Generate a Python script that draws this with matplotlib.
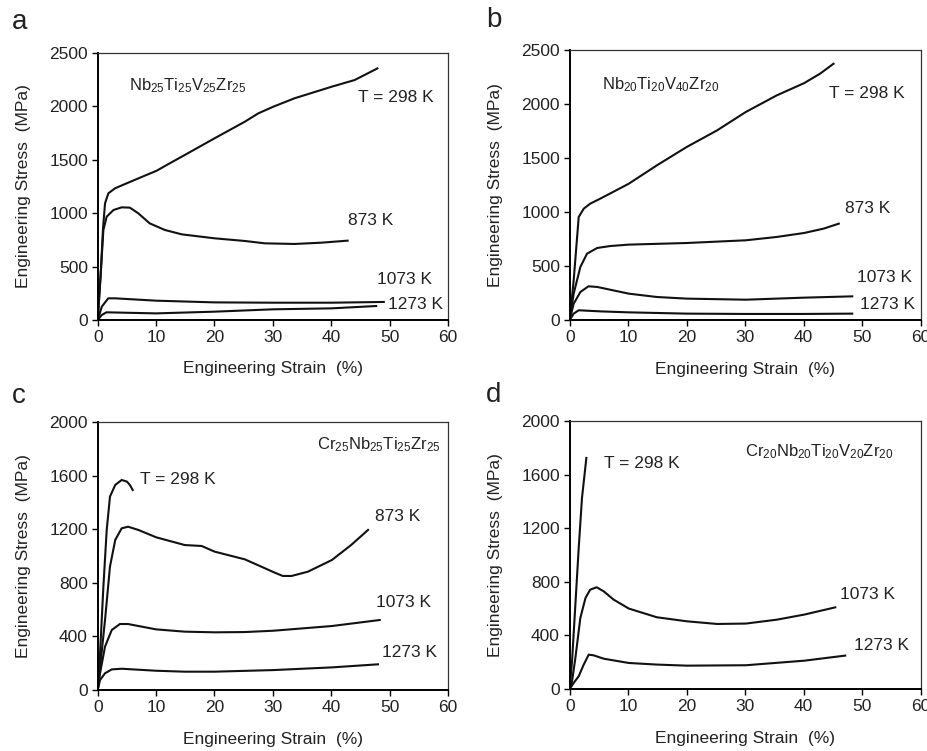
import matplotlib
matplotlib.use('Agg')
from matplotlib import pyplot as plt

plt.rcParams['font.family'] = ['Liberation Sans', 'DejaVu Sans']
plt.rcParams['mathtext.fontset'] = 'custom'
plt.rcParams['mathtext.rm'] = 'Liberation Sans'

# ---- panel a : Nb25Ti25V25Zr25 ----
a_298_x = [0, 0.5, 0.9, 1.25, 1.82, 2.96, 4.96, 6.95, 10.1, 11.8, 14.9, 20, 25.2, 27.5, 30.1, 33.7, 40.1, 44, 46.8, 47.9]
a_298_y = [0, 420, 850, 1092, 1186, 1233, 1280, 1326, 1398, 1451, 1545, 1701, 1857, 1935, 1998, 2076, 2185, 2247, 2325, 2356]
a_873_x = [0, 0.5, 0.97, 1.54, 2.7, 4.1, 5.5, 6.95, 8.9, 11.5, 14.4, 20, 25.2, 28.6, 33.7, 38.3, 42.8]
a_873_y = [0, 420, 843, 968, 1030, 1055, 1052, 999, 905, 843, 802, 765, 740, 718, 712, 724, 743]
a_1073_x = [0, 0.7, 1.8, 2.96, 10, 20, 30, 40, 49]
a_1073_y = [0, 125, 203, 203, 181, 165, 162, 162, 169]
a_1273_x = [0, 0.7, 1.5, 10, 20, 30, 40, 47.7]
a_1273_y = [0, 47, 72, 62, 78, 100, 109, 131]

# ---- panel b : Nb20Ti20V40Zr20 ----
b_298_x = [0, 0.68, 1.54, 2.4, 3.5, 5.2, 10.1, 14.9, 20, 25.2, 30.1, 35.4, 40.1, 42.8, 45.1]
b_298_y = [0, 367, 954, 1031, 1077, 1123, 1262, 1432, 1602, 1756, 1926, 2080, 2194, 2281, 2373]
b_873_x = [0, 0.68, 1.82, 2.96, 4.7, 6.95, 10.1, 20, 30.1, 35.4, 40.1, 43.4, 46]
b_873_y = [0, 244, 491, 614, 667, 685, 698, 713, 738, 769, 806, 846, 892]
b_1073_x = [0, 0.68, 1.82, 3.2, 4.7, 10.1, 14.9, 20, 30.1, 40.1, 48.3]
b_1073_y = [0, 151, 259, 312, 306, 244, 213, 198, 188, 207, 219]
b_1273_x = [0, 0.68, 1.54, 5.2, 10, 20, 30, 40, 48.3]
b_1273_y = [0, 59, 90, 80, 71, 59, 56, 56, 59]

# ---- panel c : Cr25Nb25Ti25Zr25 ----
c_298_x = [0, 0.4, 0.97, 1.54, 2.1, 3.0, 4.1, 5.0, 5.5, 6.0]
c_298_y = [0, 274, 772, 1196, 1445, 1532, 1569, 1557, 1532, 1494]
c_873_x = [0, 0.6, 1.25, 2.1, 3.0, 4.1, 5.2, 6.95, 10, 14.9, 17.8, 20, 25.2, 28, 30.3, 31.7, 33.2, 36, 40.1, 43.4, 46.3]
c_873_y = [0, 250, 523, 922, 1121, 1208, 1220, 1196, 1141, 1083, 1076, 1034, 976, 922, 877, 852, 852, 884, 971, 1083, 1196]
c_1073_x = [0, 0.4, 1.25, 2.4, 3.8, 5.2, 10, 14.9, 20, 25.2, 30.1, 40.1, 48.3]
c_1073_y = [0, 125, 324, 448, 493, 493, 453, 436, 431, 433, 443, 478, 523]
c_1273_x = [0, 0.4, 1.25, 2.4, 4.1, 10, 14.9, 20, 30.1, 40.1, 48]
c_1273_y = [0, 75, 125, 154, 159, 144, 137, 137, 149, 169, 192]

# ---- panel d : Cr20Nb20Ti20V20Zr20 ----
d_298_x = [0, 0.4, 0.97, 1.54, 2.1, 2.85]
d_298_y = [0, 206, 629, 1052, 1425, 1724]
d_1073_x = [0, 0.4, 0.97, 1.82, 2.7, 3.5, 4.6, 5.8, 7.5, 10.1, 14.9, 20, 25.2, 30.1, 35.4, 40.1, 45.4]
d_1073_y = [0, 57, 231, 530, 679, 741, 759, 729, 667, 600, 535, 505, 485, 488, 517, 555, 609]
d_1273_x = [0, 0.68, 1.54, 2.4, 3.25, 4.1, 5.8, 10.1, 14.9, 20, 30.1, 40.1, 47.1]
d_1273_y = [0, 45, 95, 182, 256, 251, 226, 194, 182, 174, 177, 211, 249]

panels = [
    dict(letter='a', rect=[0.1053, 0.5739, 0.3775, 0.3555], ymax=2500, yticks=[0, 500, 1000, 1500, 2000, 2500],
         comp=r'Nb$\mathregular{_{25}}$Ti$\mathregular{_{25}}$V$\mathregular{_{25}}$Zr$\mathregular{_{25}}$',
         comp_xy=(5.4, 2194), comp_ha='left',
         curves=[(a_298_x, a_298_y), (a_873_x, a_873_y), (a_1073_x, a_1073_y), (a_1273_x, a_1273_y)],
         labels=[('T = 298 K', 44.6, 2088), ('873 K', 42.8, 931), ('1073 K', 47.9, 375), ('1273 K', 49.7, 141)],
         letter_xy=(12, 22)),
    dict(letter='b', rect=[0.6139, 0.5739, 0.3782, 0.3595], ymax=2500, yticks=[0, 500, 1000, 1500, 2000, 2500],
         comp=r'Nb$\mathregular{_{20}}$Ti$\mathregular{_{20}}$V$\mathregular{_{40}}$Zr$\mathregular{_{20}}$',
         comp_xy=(5.5, 2176), comp_ha='left',
         curves=[(b_298_x, b_298_y), (b_873_x, b_873_y), (b_1073_x, b_1073_y), (b_1273_x, b_1273_y)],
         labels=[('T = 298 K', 44.3, 2093), ('873 K', 47.1, 1034), ('1073 K', 49.2, 392), ('1273 K', 49.7, 145)],
         letter_xy=(486, 20)),
    dict(letter='c', rect=[0.1053, 0.0812, 0.3775, 0.3565], ymax=2000, yticks=[0, 400, 800, 1200, 1600, 2000],
         comp=r'Cr$\mathregular{_{25}}$Nb$\mathregular{_{25}}$Ti$\mathregular{_{25}}$Zr$\mathregular{_{25}}$',
         comp_xy=(58.7, 1831), comp_ha='right',
         curves=[(c_298_x, c_298_y), (c_873_x, c_873_y), (c_1073_x, c_1073_y), (c_1273_x, c_1273_y)],
         labels=[('T = 298 K', 7.2, 1574), ('873 K', 47.5, 1295), ('1073 K', 47.7, 655), ('1273 K', 48.7, 279)],
         letter_xy=(12, 396)),
    dict(letter='d', rect=[0.6139, 0.0826, 0.3782, 0.3569], ymax=2000, yticks=[0, 400, 800, 1200, 1600, 2000],
         comp=r'Cr$\mathregular{_{20}}$Nb$\mathregular{_{20}}$Ti$\mathregular{_{20}}$V$\mathregular{_{20}}$Zr$\mathregular{_{20}}$',
         comp_xy=(30, 1771), comp_ha='left',
         curves=[(d_298_x, d_298_y), (d_1073_x, d_1073_y), (d_1273_x, d_1273_y)],
         labels=[('T = 298 K', 5.9, 1684), ('1073 K', 46.2, 708), ('1273 K', 48.6, 323)],
         letter_xy=(486, 395)),
]

fig = plt.figure(figsize=(9.28, 7.51), dpi=100)
txt = '#222222'

for p in panels:
    ax = fig.add_axes(p['rect'])
    for x, y in p['curves']:
        ax.plot(x, y, color='#111111', lw=1.5, solid_joinstyle='round')
    ax.set_xlim(0, 60)
    ax.set_ylim(0, p['ymax'])
    ax.set_xticks(range(0, 61, 10))
    ax.set_yticks(p['yticks'])
    ax.tick_params(direction='out', length=4, width=1, labelsize=12.5, labelcolor=txt,
                   top=False, right=False, pad=3)
    for side in ['left', 'bottom']:
        ax.spines[side].set_linewidth(1.4)
        ax.spines[side].set_color('black')
    for side in ['top', 'right']:
        ax.spines[side].set_linewidth(0.9)
        ax.spines[side].set_color('#333333')
    ax.set_xlabel('Engineering Strain  (%)', fontsize=12.5, color=txt)
    ax.set_ylabel('Engineering Stress  (MPa)', fontsize=12.5, color=txt)
    ax.xaxis.set_label_coords(0.5, -0.155)
    ax.yaxis.set_label_coords(-0.19, 0.5)
    ax.text(p['comp_xy'][0], p['comp_xy'][1], p['comp'], fontsize=12, color=txt,
            ha=p['comp_ha'], va='center')
    for s, lx, ly in p['labels']:
        ax.text(lx, ly, s, fontsize=12.5, color=txt, ha='left', va='center')
    fig.text(p['letter_xy'][0] / 928, 1 - p['letter_xy'][1] / 751, p['letter'],
             fontsize=20, color=txt, ha='left', va='center')

fig.savefig('out.png', dpi=100)
